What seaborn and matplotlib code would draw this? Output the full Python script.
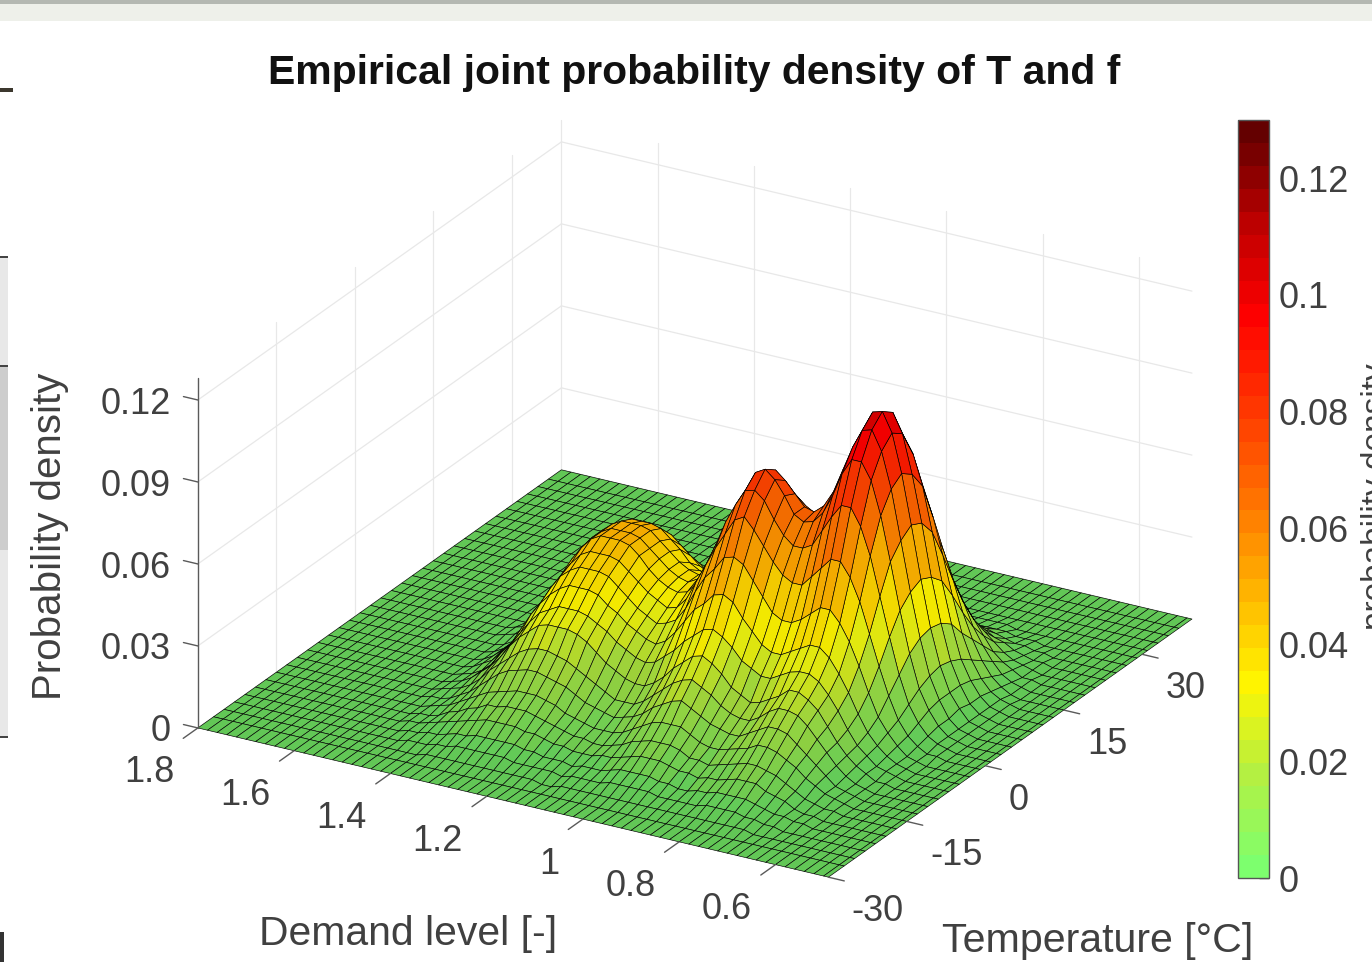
import numpy as np
import matplotlib
matplotlib.use("Agg")
import matplotlib.pyplot as plt
from matplotlib.colors import ListedColormap, Normalize
from matplotlib.patches import Rectangle
import seaborn as sns

# mesh of the surface
demand = np.r_[0.49, np.arange(0.50, 1.81, 0.02)]
temperature = [-30] + list(range(-27, 38, 2)) + [39.5]

# density, in thousandths, one row per temperature.
# every row starts at demand 0.56, the rest of the row is flat zero
density_milli = [
    [],
    [],
    [0, 0, 0, 0, 0, 0, 0, 0, 1, 1, 1, 1, 1, 1, 1, 1, 1, 1, 1, 1, 1, 1, 1, 1, 1, 1, 1, 1, 0, 0, 1, 1, 1, 1, 1, 1, 1, 1, 1, 1, 1, 1],
    [0, 0, 0, 0, 0, 0, 1, 1, 2, 2, 3, 3, 3, 3, 2, 2, 2, 2, 2, 3, 3, 3, 3, 3, 2, 2, 2, 2, 1, 2, 2, 2, 2, 2, 3, 3, 3, 3, 3, 3, 2, 2, 1, 1, 1],
    [0, 0, 0, 0, 1, 1, 2, 2, 3, 4, 5, 5, 5, 5, 4, 4, 3, 3, 4, 4, 5, 5, 5, 5, 4, 3, 3, 3, 2, 3, 3, 3, 4, 4, 5, 5, 5, 5, 5, 4, 4, 3, 2, 2, 1, 1],
    [0, 0, 0, 0, 1, 1, 2, 4, 5, 6, 8, 8, 8, 7, 6, 6, 5, 6, 6, 7, 8, 8, 8, 7, 6, 5, 5, 4, 4, 4, 5, 5, 6, 7, 7, 8, 8, 8, 8, 7, 6, 5, 4, 3, 2, 1, 1],
    [0, 0, 0, 1, 1, 2, 3, 5, 7, 9, 10, 11, 11, 10, 9, 8, 7, 8, 8, 10, 11, 11, 11, 10, 9, 7, 6, 5, 5, 6, 6, 7, 8, 9, 10, 11, 11, 11, 10, 10, 8, 7, 5, 4, 2, 1, 1],
    [0, 0, 0, 1, 2, 3, 5, 7, 10, 12, 14, 15, 15, 13, 12, 11, 10, 10, 11, 13, 15, 15, 15, 14, 12, 10, 8, 7, 7, 7, 8, 9, 10, 12, 13, 14, 14, 14, 13, 12, 11, 9, 7, 5, 3, 2, 1],
    [0, 0, 0, 1, 2, 3, 6, 9, 12, 15, 18, 19, 19, 17, 15, 13, 13, 14, 15, 17, 19, 21, 20, 18, 16, 13, 11, 10, 9, 10, 11, 12, 14, 16, 17, 18, 19, 19, 18, 17, 15, 12, 9, 6, 4, 2, 1, 1],
    [0, 0, 0, 1, 2, 4, 7, 11, 15, 19, 22, 23, 23, 21, 18, 16, 16, 17, 19, 22, 24, 26, 25, 23, 20, 17, 14, 12, 12, 12, 14, 16, 18, 20, 22, 23, 24, 24, 23, 21, 18, 15, 12, 8, 5, 3, 2, 1],
    [0, 0, 1, 1, 3, 5, 8, 12, 17, 22, 25, 27, 27, 24, 22, 20, 19, 21, 23, 27, 30, 32, 31, 28, 25, 21, 18, 16, 16, 17, 19, 21, 24, 27, 29, 30, 30, 30, 29, 26, 23, 19, 14, 10, 7, 4, 2, 1],
    [0, 0, 1, 2, 3, 6, 9, 14, 20, 25, 29, 31, 31, 30, 28, 26, 26, 28, 30, 34, 37, 39, 38, 35, 32, 28, 25, 22, 21, 22, 24, 26, 29, 31, 33, 34, 34, 34, 32, 30, 26, 21, 16, 12, 7, 4, 2, 1],
    [0, 0, 1, 2, 4, 7, 11, 17, 24, 30, 35, 38, 38, 36, 34, 32, 32, 34, 38, 42, 47, 49, 48, 44, 41, 36, 31, 27, 25, 26, 28, 30, 33, 35, 38, 39, 39, 39, 37, 34, 30, 25, 19, 13, 9, 5, 3, 1],
    [0, 0, 1, 2, 5, 9, 14, 22, 31, 39, 45, 49, 49, 46, 43, 41, 41, 43, 48, 53, 58, 60, 59, 54, 50, 44, 37, 32, 30, 29, 31, 33, 36, 39, 42, 43, 43, 43, 41, 38, 33, 27, 21, 15, 9, 6, 3, 1],
    [0, 1, 1, 3, 6, 11, 19, 29, 40, 51, 59, 64, 64, 60, 56, 52, 52, 54, 58, 63, 68, 72, 70, 64, 58, 51, 44, 37, 33, 32, 34, 36, 39, 42, 45, 46, 46, 46, 44, 40, 35, 29, 22, 16, 10, 6, 3, 1],
    [0, 1, 2, 4, 8, 14, 24, 37, 51, 65, 75, 81, 81, 76, 70, 64, 62, 62, 65, 70, 76, 79, 78, 72, 65, 56, 48, 40, 36, 35, 36, 38, 41, 45, 48, 49, 49, 49, 47, 43, 38, 31, 24, 17, 11, 6, 3, 1],
    [0, 1, 2, 5, 10, 17, 29, 44, 61, 77, 89, 95, 95, 89, 80, 73, 69, 68, 70, 76, 81, 84, 82, 75, 68, 59, 50, 42, 38, 36, 37, 39, 42, 45, 48, 49, 49, 49, 47, 44, 39, 32, 24, 17, 11, 7, 4, 2, 1],
    [0, 1, 2, 5, 11, 19, 32, 48, 66, 84, 97, 104, 103, 96, 87, 78, 72, 69, 70, 74, 78, 81, 79, 72, 66, 57, 48, 41, 37, 36, 37, 39, 42, 45, 48, 49, 49, 49, 47, 44, 39, 32, 24, 17, 11, 7, 4, 2, 1],
    [0, 1, 2, 6, 11, 20, 33, 50, 69, 87, 101, 108, 107, 100, 89, 78, 70, 66, 65, 67, 70, 73, 70, 64, 58, 50, 43, 37, 34, 33, 34, 36, 40, 43, 46, 47, 47, 47, 45, 41, 36, 30, 23, 16, 10, 6, 3, 1],
    [0, 1, 2, 5, 11, 19, 32, 48, 67, 84, 98, 105, 104, 96, 85, 74, 64, 58, 55, 55, 57, 59, 56, 51, 47, 41, 36, 31, 29, 28, 30, 32, 35, 38, 41, 42, 42, 42, 40, 37, 32, 26, 20, 14, 9, 5, 3, 1],
    [0, 1, 2, 5, 10, 17, 29, 44, 61, 77, 88, 94, 93, 86, 75, 64, 54, 47, 43, 42, 43, 44, 42, 38, 35, 31, 27, 24, 22, 22, 24, 26, 29, 31, 33, 34, 34, 34, 32, 30, 26, 21, 16, 12, 7, 4, 2, 1],
    [0, 1, 2, 4, 8, 14, 23, 36, 50, 63, 73, 78, 77, 71, 62, 52, 43, 37, 33, 31, 31, 31, 30, 27, 25, 22, 19, 17, 16, 16, 18, 19, 21, 23, 24, 25, 25, 25, 24, 22, 19, 16, 12, 9, 6, 3, 2, 1],
    [0, 0, 1, 3, 6, 11, 18, 27, 38, 48, 55, 59, 58, 54, 46, 39, 31, 26, 22, 20, 20, 20, 18, 17, 15, 14, 12, 10, 10, 10, 11, 12, 13, 15, 16, 16, 16, 16, 15, 14, 12, 10, 8, 5, 4, 2, 1],
    [0, 0, 1, 2, 4, 8, 13, 19, 27, 34, 39, 42, 41, 38, 33, 27, 21, 17, 14, 12, 11, 11, 10, 9, 9, 8, 6, 6, 6, 6, 6, 7, 8, 8, 9, 9, 9, 9, 9, 8, 7, 6, 4, 3, 2, 1, 1],
    [0, 0, 1, 1, 3, 5, 8, 13, 18, 23, 26, 28, 28, 25, 22, 18, 14, 11, 8, 7, 6, 6, 5, 5, 4, 4, 3, 3, 3, 3, 3, 3, 3, 4, 4, 4, 4, 4, 4, 4, 3, 3, 2, 1, 1, 1],
    [0, 0, 0, 1, 2, 3, 5, 8, 11, 14, 16, 17, 17, 15, 13, 10, 8, 6, 4, 3, 3, 2, 2, 2, 2, 1, 1, 1, 1, 1, 1, 1, 2, 2, 2, 2, 2, 2, 2, 2, 2, 1, 1, 1],
    [0, 0, 0, 1, 1, 2, 3, 5, 6, 8, 9, 10, 10, 9, 8, 6, 5, 3, 2, 2, 1, 1, 1, 1, 1, 1, 0, 0, 0, 0, 0, 0, 1, 1, 1, 1, 1, 1, 1, 1, 1],
    [0, 0, 0, 0, 1, 1, 2, 2, 3, 4, 5, 5, 5, 4, 4, 3, 2, 1, 1, 1],
    [0, 0, 0, 0, 0, 0, 1, 1, 1, 2, 2, 2, 2, 2, 2, 1, 1, 1],
    [0, 0, 0, 0, 0, 0, 0, 0, 0, 0, 1, 1, 1, 1, 1],
    [],
    [],
    [],
    [],
    [],
]

demand_ticks = [1.8, 1.6, 1.4, 1.2, 1.0, 0.8, 0.6]
demand_labels = ["1.8", "1.6", "1.4", "1.2", "1", "0.8", "0.6"]
temp_ticks = [-30, -15, 0, 15, 30]
density_ticks = [0, 0.03, 0.06, 0.09, 0.12]
density_labels = ["0", "0.03", "0.06", "0.09", "0.12"]
cbar_ticks = [0, 0.02, 0.04, 0.06, 0.08, 0.1, 0.12]
cbar_labels = ["0", "0.02", "0.04", "0.06", "0.08", "0.1", "0.12"]
stop_colors = ["#7dff6e", "#b4f042", "#fff500", "#ffb400", "#ff7300", "#ff3700", "#ff0000", "#be0000", "#640000"]

W, H = 1372, 971
F_LO, F_HI = demand[0], demand[-1]
T_LO, T_HI = temperature[0], temperature[-1]
Z_TOP = 0.128
GREY = "#404040"

sns.set_theme(style="white")
plt.rcParams["font.family"] = ["Liberation Sans", "DejaVu Sans"]

fig = plt.figure(figsize=(W / 100, H / 100), dpi=100, facecolor="white")


def px_rect(x0, y0, x1, y1, color):
    # screenshot leftovers around the figure
    fig.add_artist(Rectangle((x0 / W, 1 - y1 / H), (x1 - x0) / W, (y1 - y0) / H,
                             transform=fig.transFigure, facecolor=color, edgecolor="none"))


px_rect(0, 0, W, 4, "#b4b8b2")
px_rect(0, 4, W, 21, "#eef0ea")
px_rect(0, 88, 13, 92, "#3c382e")
px_rect(0, 257, 8, 366, "#e8e8e8")
px_rect(0, 366, 8, 550, "#cdcdcd")
px_rect(0, 550, 8, 737, "#e8e8e8")
px_rect(0, 256, 8, 258, "#444444")
px_rect(0, 365, 8, 367, "#444444")
px_rect(0, 736, 8, 738, "#444444")
px_rect(0, 932, 4, 962, "#333333")

cmap = ListedColormap(sns.blend_palette(stop_colors, n_colors=33))
norm = Normalize(0, 0.13)

side = 1066
ax = fig.add_axes([(680.5 - side / 2) / W, (H - 513 - side / 2) / H, side / W, side / H],
                  projection="3d", proj_type="ortho")
ax.set_box_aspect((729, 728, 384))
ax.view_init(elev=24.2, azim=-60)
ax.set_xlim(F_HI, F_LO, view_margin=0)
ax.set_ylim(T_LO, T_HI, view_margin=0)
ax.set_zlim(0, Z_TOP, view_margin=0)
ax.set_axis_off()
ax.patch.set_alpha(0)
ax.computed_zorder = False

# back walls
wall = dict(color="#e8e8e8", lw=0.9, zorder=1)
for z in density_ticks:
    ax.plot([F_HI, F_HI], [T_LO, T_HI], [z, z], **wall)
    ax.plot([F_HI, F_LO], [T_HI, T_HI], [z, z], **wall)
for t in temp_ticks[1:]:
    ax.plot([F_HI, F_HI], [t, t], [0, Z_TOP], **wall)
for f in demand_ticks[1:]:
    ax.plot([f, f], [T_HI, T_HI], [0, Z_TOP], **wall)
ax.plot([F_HI, F_HI], [T_HI, T_HI], [0, Z_TOP], **wall)

F, T = np.meshgrid(demand, temperature)
rows = [[0] * 4 + r + [0] * (len(demand) - 4 - len(r)) for r in density_milli]
Z = np.array(rows) / 1000
faces = cmap(norm(Z))
# the very dense mesh of the original darkens the flat floor
faces[..., :3] *= (0.78 + 0.17 * np.clip(Z / 0.03, 0, 1))[..., None]
ax.plot_surface(F, T, Z, facecolors=faces, rstride=1, cstride=1, shade=False,
                edgecolor="black", linewidth=0.45, antialiased=True, zorder=2)

# axis lines, ticks and their labels
tick = dict(color="#5a5a5a", lw=1, zorder=3)
ax.plot([F_HI, F_HI], [T_LO, T_LO], [0, Z_TOP], **tick)
for f, lab in zip(demand_ticks, demand_labels):
    ax.plot([f, f], [T_LO, T_LO - 2.8], [0, 0], **tick)
    ax.text(f - 0.053, T_LO - 9.4, 0, lab, ha="right", va="center_baseline", fontsize=26, color=GREY)
for t in temp_ticks:
    ax.plot([F_LO, F_LO - 0.033], [t, t], [0, 0], **tick)
    ax.text(F_LO - 0.103, t - 5.0, 0, str(t), ha="left", va="center_baseline", fontsize=26, color=GREY)
for z, lab in zip(density_ticks, density_labels):
    ax.plot([F_HI, F_HI + 0.03], [T_LO, T_LO], [z, z], **tick)
    ax.text(F_HI + 0.042, T_LO - 1.3, z, lab, ha="right", va="center_baseline", fontsize=26, color=GREY)

fig.text(694 / W, 1 - 69 / H, "Empirical joint probability density of T and f", ha="center", va="center_baseline",
         fontsize=29.4, fontweight="bold", color="#111111")
fig.text(408 / W, 1 - 930 / H, "Demand level [-]", ha="center", va="center_baseline", fontsize=29.4, color=GREY)
fig.text(1098 / W, 1 - 937 / H, "Temperature [°C]", ha="center", va="center_baseline", fontsize=29.6, color=GREY)
fig.text(50 / W, 1 - 536 / H, "Probability density", rotation=90, ha="center", va="center", fontsize=29, color=GREY)

cax = fig.add_axes([1238 / W, 1 - 878 / H, 31 / W, 758 / H])
sm = plt.cm.ScalarMappable(norm=norm, cmap=cmap)
cbar = fig.colorbar(sm, cax=cax)
cbar.set_ticks(cbar_ticks, labels=cbar_labels)
cbar.ax.tick_params(direction="in", length=7, width=1, color="#333333", labelsize=26, labelcolor=GREY, pad=7, right=True)
for lab in cbar.ax.get_yticklabels():
    lab.set_va("center_baseline")
cbar.outline.set_edgecolor("#555555")
cbar.outline.set_linewidth(1)
fig.text(1376 / W, 1 - 497 / H, "probability density", rotation=90, ha="center", va="center", fontsize=24, color=GREY)

fig.savefig("out.png", dpi=100)
